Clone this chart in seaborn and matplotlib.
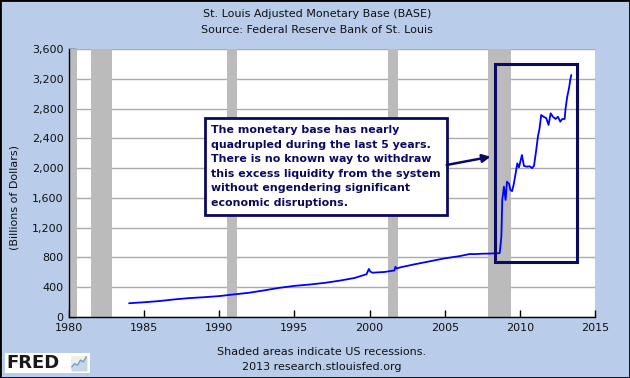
import numpy as np
import pandas as pd
import seaborn as sns
import matplotlib.pyplot as plt
from matplotlib.patches import Rectangle
from matplotlib.ticker import FuncFormatter

# St. Louis Adjusted Monetary Base, billions of dollars
years = [1984.0, 1985.0, 1986.0, 1987.0, 1988.0, 1989.0, 1990.0, 1991.0,
         1992.0, 1993.0, 1994.0, 1995.0, 1996.0, 1997.0, 1998.0, 1999.0,
         1999.8, 1999.95, 2000.05, 2000.2, 2001.0, 2001.65, 2001.72, 2001.8,
         2002.0, 2003.0, 2004.0, 2005.0, 2006.0, 2006.66, 2007.0, 2007.5,
         2008.0, 2008.66, 2008.77, 2008.83, 2008.94, 2009.05, 2009.14,
         2009.28, 2009.37, 2009.48, 2009.59, 2009.72, 2009.83, 2009.94,
         2010.14, 2010.27, 2010.47, 2010.65, 2010.81, 2010.94, 2011.09,
         2011.20, 2011.31, 2011.42, 2011.58, 2011.76, 2011.91, 2012.05,
         2012.20, 2012.38, 2012.53, 2012.69, 2012.82, 2012.98, 2013.04,
         2013.15, 2013.27, 2013.35, 2013.42]
base = [185, 198, 214, 236, 254, 266, 281, 304,
        326, 358, 392, 418, 436, 458, 488, 524,
        575, 645, 610, 595, 605, 625, 675, 650,
        665, 708, 748, 788, 818, 846, 845, 850,
        852, 858, 1080, 1572, 1750, 1572, 1818, 1790,
        1706, 1690, 1780, 1930, 2064, 2010, 2176, 2030,
        2019, 2025, 2000, 2030, 2243, 2422, 2534, 2713,
        2690, 2670, 2579, 2736, 2690, 2660, 2690, 2624,
        2660, 2660, 2798, 2959, 3071, 3183, 3251]

recessions = [(1980.0, 1980.55), (1981.46, 1982.84), (1990.5, 1991.2),
              (2001.2, 2001.9), (2007.88, 2009.43)]

title_lines = ["St. Louis Adjusted Monetary Base (BASE)",
               "Source: Federal Reserve Bank of St. Louis"]
note_text = ("The monetary base has nearly\n"
             "quadrupled during the last 5 years.\n"
             "There is no known way to withdraw\n"
             "this excess liquidity from the system\n"
             "without engendering significant\n"
             "economic disruptions.")
logo_icon = [1, 2, 1.5, 3, 2.5, 4]

df = pd.DataFrame({"year": years, "base": base})

sns.set_theme(style="white")
plt.rcParams['font.family'] = ['DejaVu Sans']

bg = '#B9CDEA'
navy = '#0A0A60'
fig = plt.figure(figsize=(6.3, 3.78), dpi=100, facecolor=bg)
ax = fig.add_axes([69/630, 61/378, 526/630, 268/378])
ax.set_facecolor('white')

for r0, r1 in recessions:
    ax.axvspan(r0, r1, color='#BBBBBB', lw=0, zorder=1)

ax.set_yticks(np.arange(0, 3601, 400))
ax.yaxis.grid(True, color='#AAAAAA', lw=1, zorder=0)
ax.set_axisbelow(True)

sns.lineplot(data=df, x="year", y="base", ax=ax, color='#0000FF', lw=1.3, zorder=3)

ax.set_xlim(1980, 2015)
ax.set_ylim(0, 3600)
ax.set_xticks(np.arange(1980, 2016, 5))
ax.yaxis.set_major_formatter(FuncFormatter(lambda v, p: f"{int(v):,}"))
ax.tick_params(direction='in', length=5, width=1, color='black',
               labelsize=8, pad=4, bottom=True, left=True,
               labelcolor='#111111')
ax.set_xlabel("")
ax.set_ylabel("")
for s in ['top', 'right']:
    ax.spines[s].set_visible(False)
for s in ['left', 'bottom']:
    ax.spines[s].set_color('black')
    ax.spines[s].set_linewidth(1)

# annotation box and highlight rectangle
ax.add_patch(Rectangle((1989.04, 1370), 2005.13 - 1989.04, 2673 - 1370,
                       facecolor='white', edgecolor=navy, lw=2, zorder=5))
ax.text(1989.42, 2022, note_text, ha='left', va='center', fontsize=7.95,
        fontweight='bold', color=navy, linespacing=1.58, zorder=6)
ax.add_patch(Rectangle((2008.32, 743), 2013.8 - 2008.32, 3398 - 743,
                       fill=False, edgecolor=navy, lw=2.2, zorder=5))
ax.annotate("", xy=(2008.05, 2153), xytext=(2005.13, 2042),
            arrowprops=dict(arrowstyle='-|>', color=navy, lw=1.8,
                            mutation_scale=12, shrinkA=0, shrinkB=0),
            zorder=6)

fig.text(317/630, 1 - 14/378, title_lines[0], ha='center', va='center',
         fontsize=8, color='#111111')
fig.text(317/630, 1 - 30/378, title_lines[1], ha='center', va='center',
         fontsize=8, color='#111111')
fig.text(15/630, 1 - 198/378, "(Billions of Dollars)", rotation=90,
         ha='center', va='center', fontsize=8, color='#111111')
fig.text(322/630, 1 - 352/378, "Shaded areas indicate US recessions.",
         ha='center', va='center', fontsize=8, color='#111111')
fig.text(322/630, 1 - 367/378, "2013 research.stlouisfed.org",
         ha='center', va='center', fontsize=8, color='#111111')

# FRED logo
fig.patches.append(Rectangle((5/630, 1 - 373/378), 85/630, 20/378,
                             transform=fig.transFigure, facecolor='white',
                             edgecolor='none'))
fig.text(6/630, 1 - 363/378, "FRED", ha='left', va='center', fontsize=13,
         fontweight='heavy', color='#1A1A1A')
icon = fig.add_axes([71/630, 1 - 371/378, 16/630, 15/378], zorder=3)
icon.plot(range(len(logo_icon)), logo_icon, color='#7A9CC8', lw=1)
icon.fill_between(range(len(logo_icon)), logo_icon, color='#C8D6EA')
icon.set_xticks([])
icon.set_yticks([])
icon.set_facecolor('#EEEEEE')
for s in icon.spines.values():
    s.set_visible(False)

fig.patches.append(Rectangle((0, 0), 1, 1, transform=fig.transFigure,
                             fill=False, edgecolor='black', lw=2))

plt.savefig('out.png', dpi=100, facecolor=bg)
plt.close()
